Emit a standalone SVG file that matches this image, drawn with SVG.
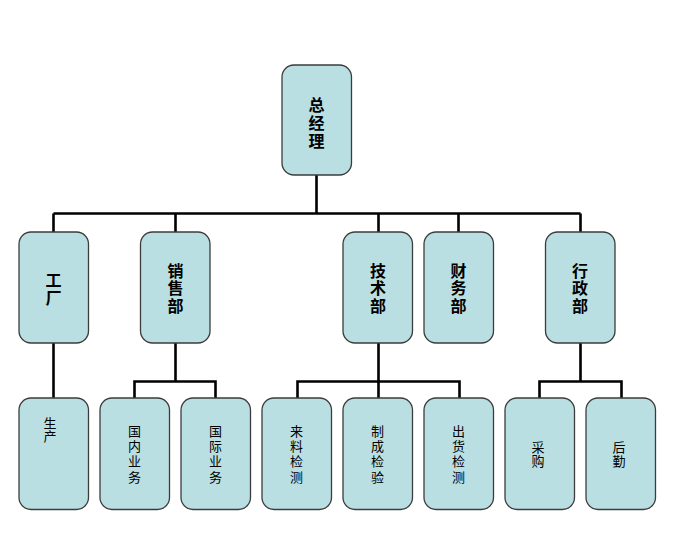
<svg xmlns="http://www.w3.org/2000/svg" width="677" height="533" viewBox="0 0 677 533">
<style>
.box{fill:#BADFE2;stroke:#3c3c3c;stroke-width:1.3}
.c{fill:none;stroke:#000;stroke-width:2.6}
text{writing-mode:vertical-rl;text-anchor:middle;fill:#000;font-family:"Noto Sans CJK SC","Noto Sans",sans-serif}
.t1{font-size:16px;font-weight:bold;letter-spacing:1.5px}
.t2{font-size:13px;letter-spacing:2.3px}
</style>
<rect width="677" height="533" fill="#fff"/>
<g id="connectors">
<path class="c" d="M316.5 175V213.5M53.5 213.5H580.5M53.5 213.5V232M175.5 213.5V232M378.5 213.5V232M458.5 213.5V232M580.5 213.5V232"/>
<path class="c" d="M53.5 343V398"/>
<path class="c" d="M175.5 343V381.5M134.5 398V381.5H215.5V398"/>
<path class="c" d="M378.5 343V381.5M297.5 398V381.5H459.5V398M378.5 381.5V398"/>
<path class="c" d="M580.5 343V381.5M539.5 398V381.5H621.5V398"/>
</g>
<g id="n-zjl"><rect class="box" x="282" y="65" width="69.5" height="110" rx="12"/>
<text class="t1" x="316.5" y="124" style="letter-spacing:2px">总经理</text></g>
<g id="n-gc"><rect class="box" x="19" y="232" width="69.5" height="111" rx="12"/>
<text class="t1" x="53.5" y="289.5">工厂</text></g>
<g id="n-xsb"><rect class="box" x="140.5" y="232" width="69.5" height="111" rx="12"/>
<text class="t1" x="175.5" y="289">销售部</text></g>
<g id="n-jsb"><rect class="box" x="343" y="232" width="69.5" height="111" rx="12"/>
<text class="t1" x="378" y="289">技术部</text></g>
<g id="n-cwb"><rect class="box" x="424" y="232" width="69.5" height="111" rx="12"/>
<text class="t1" x="458.5" y="289">财务部</text></g>
<g id="n-xzb"><rect class="box" x="545.5" y="232" width="69.5" height="111" rx="12"/>
<text class="t1" x="580" y="289">行政部</text></g>
<g id="n-sc"><rect class="box" x="19" y="398" width="69.5" height="111.5" rx="12"/>
<text class="t2" x="50" y="429.5" style="letter-spacing:0">生产</text></g>
<g id="n-gnyw"><rect class="box" x="100" y="398" width="69.5" height="111.5" rx="12"/>
<text class="t2" x="134.5" y="455">国内业务</text></g>
<g id="n-gjyw"><rect class="box" x="181" y="398" width="69.5" height="111.5" rx="12"/>
<text class="t2" x="215.5" y="455">国际业务</text></g>
<g id="n-lljc"><rect class="box" x="262" y="398" width="69.5" height="111.5" rx="12"/>
<text class="t2" x="296.5" y="455">来料检测</text></g>
<g id="n-zcjy"><rect class="box" x="343" y="398" width="69.5" height="111.5" rx="12"/>
<text class="t2" x="377.5" y="455">制成检验</text></g>
<g id="n-chjc"><rect class="box" x="424" y="398" width="69.5" height="111.5" rx="12"/>
<text class="t2" x="458.5" y="455">出货检测</text></g>
<g id="n-cg"><rect class="box" x="505" y="398" width="69.5" height="111.5" rx="12"/>
<text class="t2" x="538" y="454.5" style="letter-spacing:1px">采购</text></g>
<g id="n-hq"><rect class="box" x="586" y="398" width="69.5" height="111.5" rx="12"/>
<text class="t2" x="619" y="454.5" style="letter-spacing:1px">后勤</text></g>
</svg>
